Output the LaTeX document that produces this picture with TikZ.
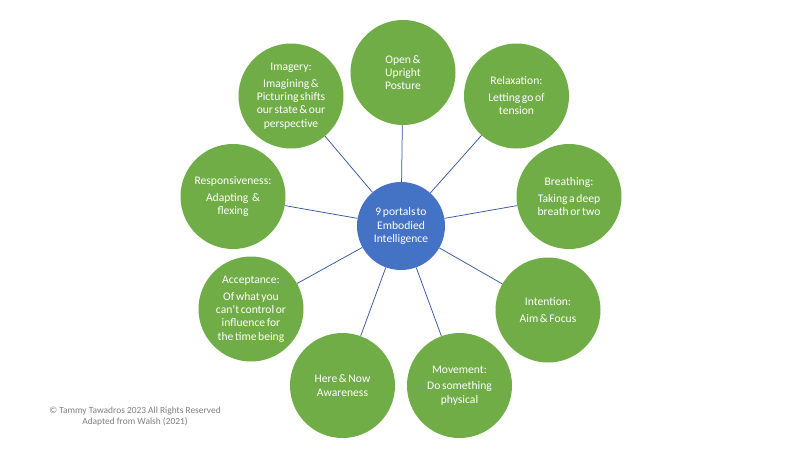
\documentclass[tikz,border=0pt]{standalone}
\usepackage{fontspec}
\setmainfont{Carlito}
\definecolor{pgreen}{HTML}{70AD47}
\definecolor{pblue}{HTML}{4472C4}
\definecolor{plink}{HTML}{34589E}
\definecolor{pgray}{HTML}{7F7F7F}
\newcommand{\portalfont}{\fontsize{11.6}{13.3}\selectfont\spaceskip=0.14em plus 0.05em\relax}
\begin{document}
\begin{tikzpicture}[x=1pt,y=-1pt,
  portal/.style={circle,fill=pgreen,draw=none,minimum size=105pt,inner sep=0pt,
    text=white,align=center,font=\portalfont},
  hub/.style={circle,fill=pblue,draw=none,minimum size=88pt,inner sep=0pt,
    text=white,align=center,font=\portalfont},
  link/.style={draw=plink,line width=0.75pt},
  note/.style={text=pgray,font=\fontsize{9.4}{10.6}\selectfont,align=center}]
\useasboundingbox (0,0) rectangle (800,450);
\fill[white] (0,0) rectangle (800,450);
\node[hub] (c) at (401,226) {9 portals\hspace{1pt}to\\Embodied\\Intelligence};
\node[portal] (open) at (403,72.5) {Open \&\\Upright\\Posture};
\node[portal] (relax) at (516.5,96) {Relaxation:\\[3.4pt]Letting go of\\tension};
\node[portal] (breath) at (569,196.5) {Breathing:\\[3.4pt]Taking a deep\\breath or two};
\node[portal] (intent) at (548,310) {Intention:\\[3.4pt]Aim \& Focus};
\node[portal] (move) at (459.5,385.5) {Movement:\\[3.4pt]Do something\\physical};
\node[portal] (here) at (342.5,385.5) {Here \& Now\\Awareness};
\node[portal] (accept) at (251,309) {Acceptance:\\[3.4pt]Of what you\\can’t control or\\influence for\\the time being};
\node[portal] (resp) at (233,196.5) {Responsiveness:\\[3.4pt]Adapting \hspace{2pt}\&\\flexing};
\node[portal] (imag) at (291,96) {Imagery:\\[3.4pt]Imagining \&\\Picturing shifts\\our state \& our\\perspective};
\foreach \n in {open,relax,breath,intent,move,here,accept,resp,imag}
  \draw[link] (c) -- (\n);
\node[note] (copy) at (135,416.5) {© Tammy Tawadros 2023 All Rights Reserved\\Adapted from Walsh (2021)};
\end{tikzpicture}
\end{document}
